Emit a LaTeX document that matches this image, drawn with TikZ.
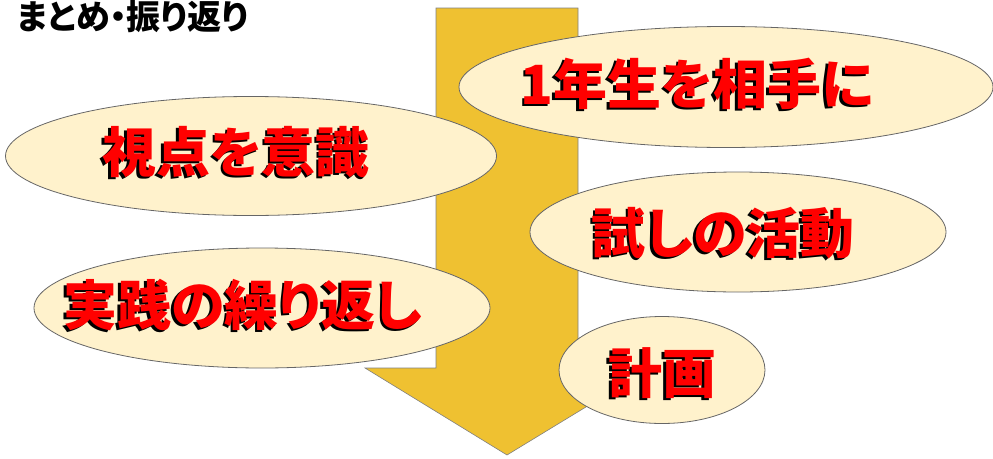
\documentclass[tikz,border=0pt]{standalone}
\usepackage{fontspec}
\setmainfont{Noto Sans CJK JP}[RawFeature=+palt]
\usetikzlibrary{positioning, calc, shapes}
\definecolor{arrowgold}{HTML}{EFC131}
\definecolor{bubblefill}{HTML}{FFF2CC}
\tikzset{bubble/.style={ellipse, draw=black!60, fill=bubblefill, line width=0.8pt, inner sep=0pt}}
\tikzset{bigtext/.style={font=\fontsize{54}{60}\selectfont\bfseries, inner sep=0pt}}
\newcommand{\shadowed}[1]{\rlap{\kern-2.5pt\raisebox{-2.5pt}{\textcolor{black}{#1}}}\textcolor{red}{#1}}

\begin{document}
\begin{tikzpicture}[x=1pt, y=-1pt]
      \useasboundingbox (0,0) rectangle (993,458);

      \node[anchor=west, inner sep=0pt, font=\fontsize{34}{36}\selectfont\bfseries] (title) at (17,17) {まとめ・振り返り};

      \draw[draw=black!50, fill=arrowgold, line width=0.6pt]
        (436,8) -- (578,8) -- (578,368) -- (650,368) -- (507,455) -- (365,368) -- (436,368) -- cycle;

      \node[bubble, minimum width=534pt, minimum height=121pt] (nensei) at (726,87) {};
      \node[bigtext] (nensei-t) at (697,85) {\shadowed{1年生を相手に}};

      \node[bubble, minimum width=491pt, minimum height=119pt] (shiten) at (251,156) {};
      \node[bigtext] (shiten-t) at (236,153) {\shadowed{視点を意識}};

      \node[bubble, minimum width=416pt, minimum height=120pt] (tameshi) at (738,232) {};
      \node[bigtext] (tameshi-t) at (723,234) {\shadowed{試しの活動}};

      \node[bubble, minimum width=456pt, minimum height=120pt] (jissen) at (262,308) {};
      \node[bigtext] (jissen-t) at (243,306) {\shadowed{実践の繰り返し}};

      \node[bubble, minimum width=206pt, minimum height=107pt] (keikaku) at (662,370) {};
      \node[bigtext] (keikaku-t) at (662,374) {\shadowed{計画}};
\end{tikzpicture}
\end{document}
